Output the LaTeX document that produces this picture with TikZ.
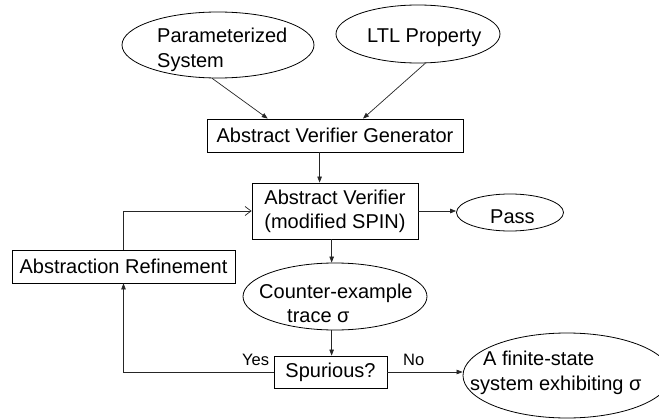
\documentclass[tikz,border=0pt]{standalone}
\usepackage{fontspec}
\setmainfont{Liberation Sans}
\usetikzlibrary{shapes.geometric,arrows.meta,calc}
\begin{document}
\begin{tikzpicture}[x=1pt,y=-1pt,
  every node/.style={font=\fontsize{20}{24}\selectfont},
  ell/.style={draw=black,line width=0.8pt,ellipse,inner sep=0pt},
  box/.style={draw=black,line width=0.8pt,rectangle,inner sep=0pt,align=center},
  txt/.style={anchor=base west,inner sep=0pt},
  small/.style={anchor=base west,inner sep=0pt,font=\fontsize{16.5}{20}\selectfont},
  conn/.style={draw=black!85,line width=0.7pt,-{Triangle[length=6pt,width=4.5pt]}},
  openconn/.style={draw=black!85,line width=0.7pt,-{Straight Barb[length=6pt,width=9pt]}}
]
\path[use as bounding box,fill=white] (0,0) rectangle (659,420);

% shapes
\node[ell,minimum width=192pt,minimum height=66pt] (param) at (218,45) {};
\node[ell,minimum width=164pt,minimum height=58pt] (ltl) at (418,34) {};
\node[box,minimum width=256pt,minimum height=33pt] (gen) at (335,135.5) {Abstract Verifier Generator};
\node[box,minimum width=166pt,minimum height=56pt] (ver) at (335,211) {Abstract Verifier\\(modified SPIN)};
\node[ell,minimum width=107pt,minimum height=37pt] (pass) at (510,212.5) {};
\node[box,minimum width=223pt,minimum height=33pt] (ref) at (123.5,266.5) {Abstraction Refinement};
\node[ell,minimum width=184pt,minimum height=67pt] (counter) at (335,296.5) {};
\node[box,minimum width=113pt,minimum height=32pt] (spur) at (330.5,372) {Spurious?};
\node[ell,minimum width=208pt,minimum height=85pt] (final) at (567,375.5) {};

% texts
\node[txt] (tp1) at (157,43) {Parameterized};
\node[txt] (tp2) at (157,67) {System};
\node[txt] (tltl) at (367,43) {LTL Property};
\node[txt] (tpass) at (490,223) {Pass};
\node[txt] (tc1) at (259,298) {Counter-example};
\node[txt] (tc2) at (287,322) {trace σ};
\node[txt] (tf1) at (483,365) {A finite-state};
\node[txt] (tf2) at (470,390) {system exhibiting σ};
\node[small] (yes) at (242,365) {Yes};
\node[small] (no) at (403,365) {No};

% connectors
\coordinate (g1) at ($(gen.north west)!0.238!(gen.north east)$);
\coordinate (g2) at ($(gen.north west)!0.609!(gen.north east)$);
\coordinate (g3) at ($(gen.south west)!0.44!(gen.south east)$);
\coordinate (v3) at ($(ver.south west)!0.48!(ver.south east)$);
\coordinate (s1) at ($(spur.north west)!0.51!(spur.north east)$);
\draw[conn] (param.260) -- (g1);
\draw[conn] (ltl.284) -- (g2);
\draw[conn] (g3) -- (g3 |- ver.north);
\draw[conn] (ver.east) -- (ver.east -| pass.west);
\draw[conn] (v3) -- (v3 |- counter.north);
\draw[conn] (s1 |- counter.south) -- (s1);
\draw[conn] (spur.east) -- (spur.east -| final.west);
\draw[conn] (spur.west) -| (ref.south);
\draw[openconn] (ref.north) |- (ver.west);
\end{tikzpicture}
\end{document}
